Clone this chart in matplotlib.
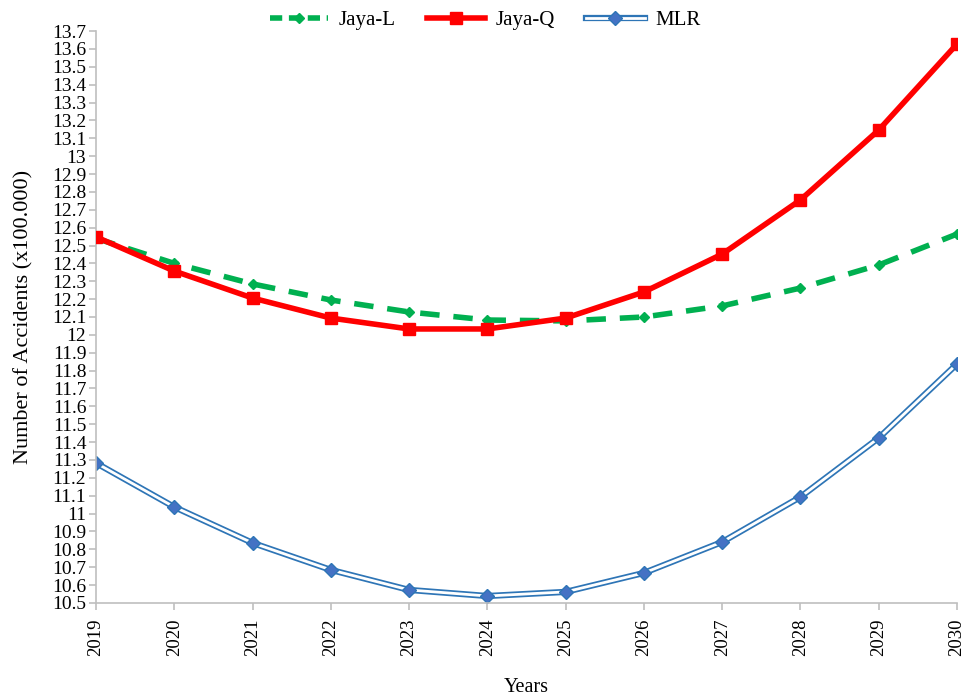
import matplotlib.pyplot as plt
import numpy as np
from matplotlib.lines import Line2D
from matplotlib.legend_handler import HandlerTuple
from matplotlib.ticker import MultipleLocator, FuncFormatter

plt.rcParams['font.family'] = ['Liberation Serif', 'DejaVu Serif']

years = [2019, 2020, 2021, 2022, 2023, 2024, 2025, 2026, 2027, 2028, 2029, 2030]
jaya_l = [12.54, 12.40, 12.285, 12.195, 12.128, 12.083, 12.078, 12.10, 12.162, 12.262, 12.391, 12.564]
jaya_q = [12.548, 12.357, 12.206, 12.094, 12.033, 12.033, 12.094, 12.24, 12.452, 12.755, 13.146, 13.627]
mlr = [11.283, 11.037, 10.836, 10.685, 10.573, 10.539, 10.562, 10.668, 10.841, 11.093, 11.423, 11.837]

green = '#00B050'
red = '#FF0000'
blue = '#2E75B6'
blue_fill = '#4472C4'

fig = plt.figure(figsize=(9.76, 6.97), dpi=100)
ax = fig.add_axes([0.0984, 0.1349, 0.8821, 0.8206])

ax.plot(years, jaya_l, color=green, lw=4, linestyle=(0, (3.5, 2.5)), marker='D',
        markersize=5, markerfacecolor=green, markeredgecolor=green, zorder=3)
ax.plot(years, jaya_q, color=red, lw=4, marker='s', markersize=9,
        markerfacecolor=red, markeredgecolor=red, zorder=4)
ax.plot(years, mlr, color=blue, lw=4.5, zorder=2, solid_capstyle='butt')
ax.plot(years, mlr, color='white', lw=2, zorder=2.1, solid_capstyle='butt')
ax.plot(years, mlr, linestyle='none', marker='D', markersize=7,
        markerfacecolor=blue_fill, markeredgecolor=blue, zorder=2.2)

ax.set_xlim(2019, 2030)
ax.set_ylim(10.5, 13.7)
ax.set_xticks(years)
ax.set_xticklabels([str(y) for y in years], rotation=90)
ax.yaxis.set_major_locator(MultipleLocator(0.1))
ax.yaxis.set_major_formatter(FuncFormatter(lambda v, p: '%g' % round(v, 1)))

for s in ['top', 'right']:
    ax.spines[s].set_visible(False)
for s in ['left', 'bottom']:
    ax.spines[s].set_color('#BFBFBF')
    ax.spines[s].set_linewidth(1.2)
ax.tick_params(axis='both', colors='#BFBFBF', labelcolor='black',
               length=5, width=1.2, direction='out')
ax.tick_params(axis='y', labelsize=14, pad=2)
ax.tick_params(axis='x', labelsize=13.5, pad=6)

ax.set_xlabel('Years', fontsize=14.5, labelpad=16)
ax.set_ylabel('Number of Accidents (x100.000)', fontsize=16, labelpad=13)

h_l = Line2D([], [], color=green, lw=4, linestyle=(0, (2.2, 1.2)), marker='D',
             markersize=5, markerfacecolor=green, markeredgecolor=green)
h_q = Line2D([], [], color=red, lw=4, marker='s', markersize=9,
             markerfacecolor=red, markeredgecolor=red)
h_m1 = Line2D([], [], color=blue, lw=4.5)
h_m2 = Line2D([], [], color='white', lw=2)
h_m3 = Line2D([], [], linestyle='none', marker='D', markersize=7,
              markerfacecolor=blue_fill, markeredgecolor=blue)
fig.legend([h_l, h_q, (h_m1, h_m2, h_m3)], ['Jaya-L', 'Jaya-Q', 'MLR'],
           handler_map={tuple: HandlerTuple(ndivide=1, pad=0)},
           loc='upper center', bbox_to_anchor=(0.497, 1.012), ncol=3, frameon=False,
           fontsize=15, handlelength=2.8, handletextpad=0.5, columnspacing=1.5)

fig.savefig('out.png', dpi=100)
